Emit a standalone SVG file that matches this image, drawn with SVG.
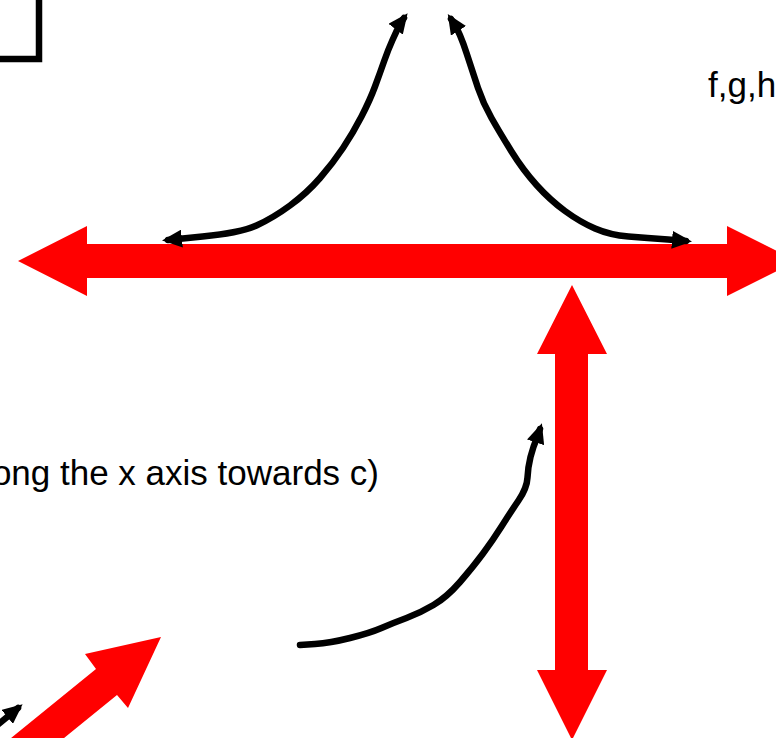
<svg xmlns="http://www.w3.org/2000/svg" width="776" height="738" viewBox="0 0 776 738">
  <style>
    .red { fill: #ff0000; }
    .curve { fill: none; stroke: #000; stroke-width: 6.5; stroke-linejoin: round; stroke-linecap: round; }
    .label { font-family: "Liberation Sans", Arial, sans-serif; font-size: 35px; fill: #000; }
  </style>
  <defs>
    <marker id="ah" markerUnits="userSpaceOnUse" viewBox="0 0 20 18" markerWidth="20" markerHeight="18" refX="14" refY="9" orient="auto-start-reverse">
      <path d="M0,0 L20,9 L0,18 z" fill="#000"/>
    </marker>
  </defs>
  <rect width="776" height="738" fill="#fff"/>

  <g id="box">
    <rect x="-100" y="-100" width="139" height="159" fill="none" stroke="#000" stroke-width="6.5"/>
  </g>

  <g id="label-fgh">
    <text class="label" x="708" y="97">f,g,h</text>
  </g>

  <g id="label-axis">
    <text class="label" x="379" y="485" text-anchor="end">ong the x axis towards c)</text>
  </g>

  <g id="red-arrows">
    <polygon id="x-axis" class="red" points="18,261 87,226 87,244 727,244 727,226 797,261 727,296 727,278 87,278 87,296"/>
    <polygon id="y-axis" class="red" points="572,285 607,354 588,354 588,670 607,670 572,740 537,670 555,670 555,354 537,354"/>
    <polygon id="diag-axis" class="red" points="161,637 128,708 117,695 37,760 -16,760 96,669 85,654"/>
  </g>

  <g id="connectors">
    <path class="curve" marker-start="url(#ah)" marker-end="url(#ah)" d="M168,240 L202.5,236.5 Q240,233 256.5,225.5 Q273,218 290,205.5 Q307,193 320,178 Q333,163 343,148 Q353,133 361.5,116.5 Q370,100 375,86.5 Q380,73 384,61.5 Q388,50 392.5,40 Q397,30 401,22 L404,18"/>
    <path class="curve" marker-start="url(#ah)" marker-end="url(#ah)" d="M451,19 L454.5,24.5 Q460,33 466.5,53 Q473,73 478,88 Q483,103 491.5,118 Q500,133 511.5,151.5 Q523,170 536.5,185 Q550,200 565,211 Q580,222 595,228.5 Q610,235 628.5,236.5 Q647,238 668,239.5 L686,241"/>
    <path class="curve" marker-end="url(#ah)" d="M300,645 L315,644 Q330,643 350,638 Q370,633 381.5,628 Q393,623 406.5,618 Q420,613 433.5,605 Q447,597 460,582 Q473,567 483,553.5 Q493,540 501.5,526.5 Q510,513 518.5,500.5 Q527,488 527.5,477.5 Q528,467 530.5,457 Q533,447 538,435 L540,429"/>
    <line class="curve" x1="-5" y1="727" x2="18" y2="708" marker-end="url(#ah)"/>
  </g>
</svg>
